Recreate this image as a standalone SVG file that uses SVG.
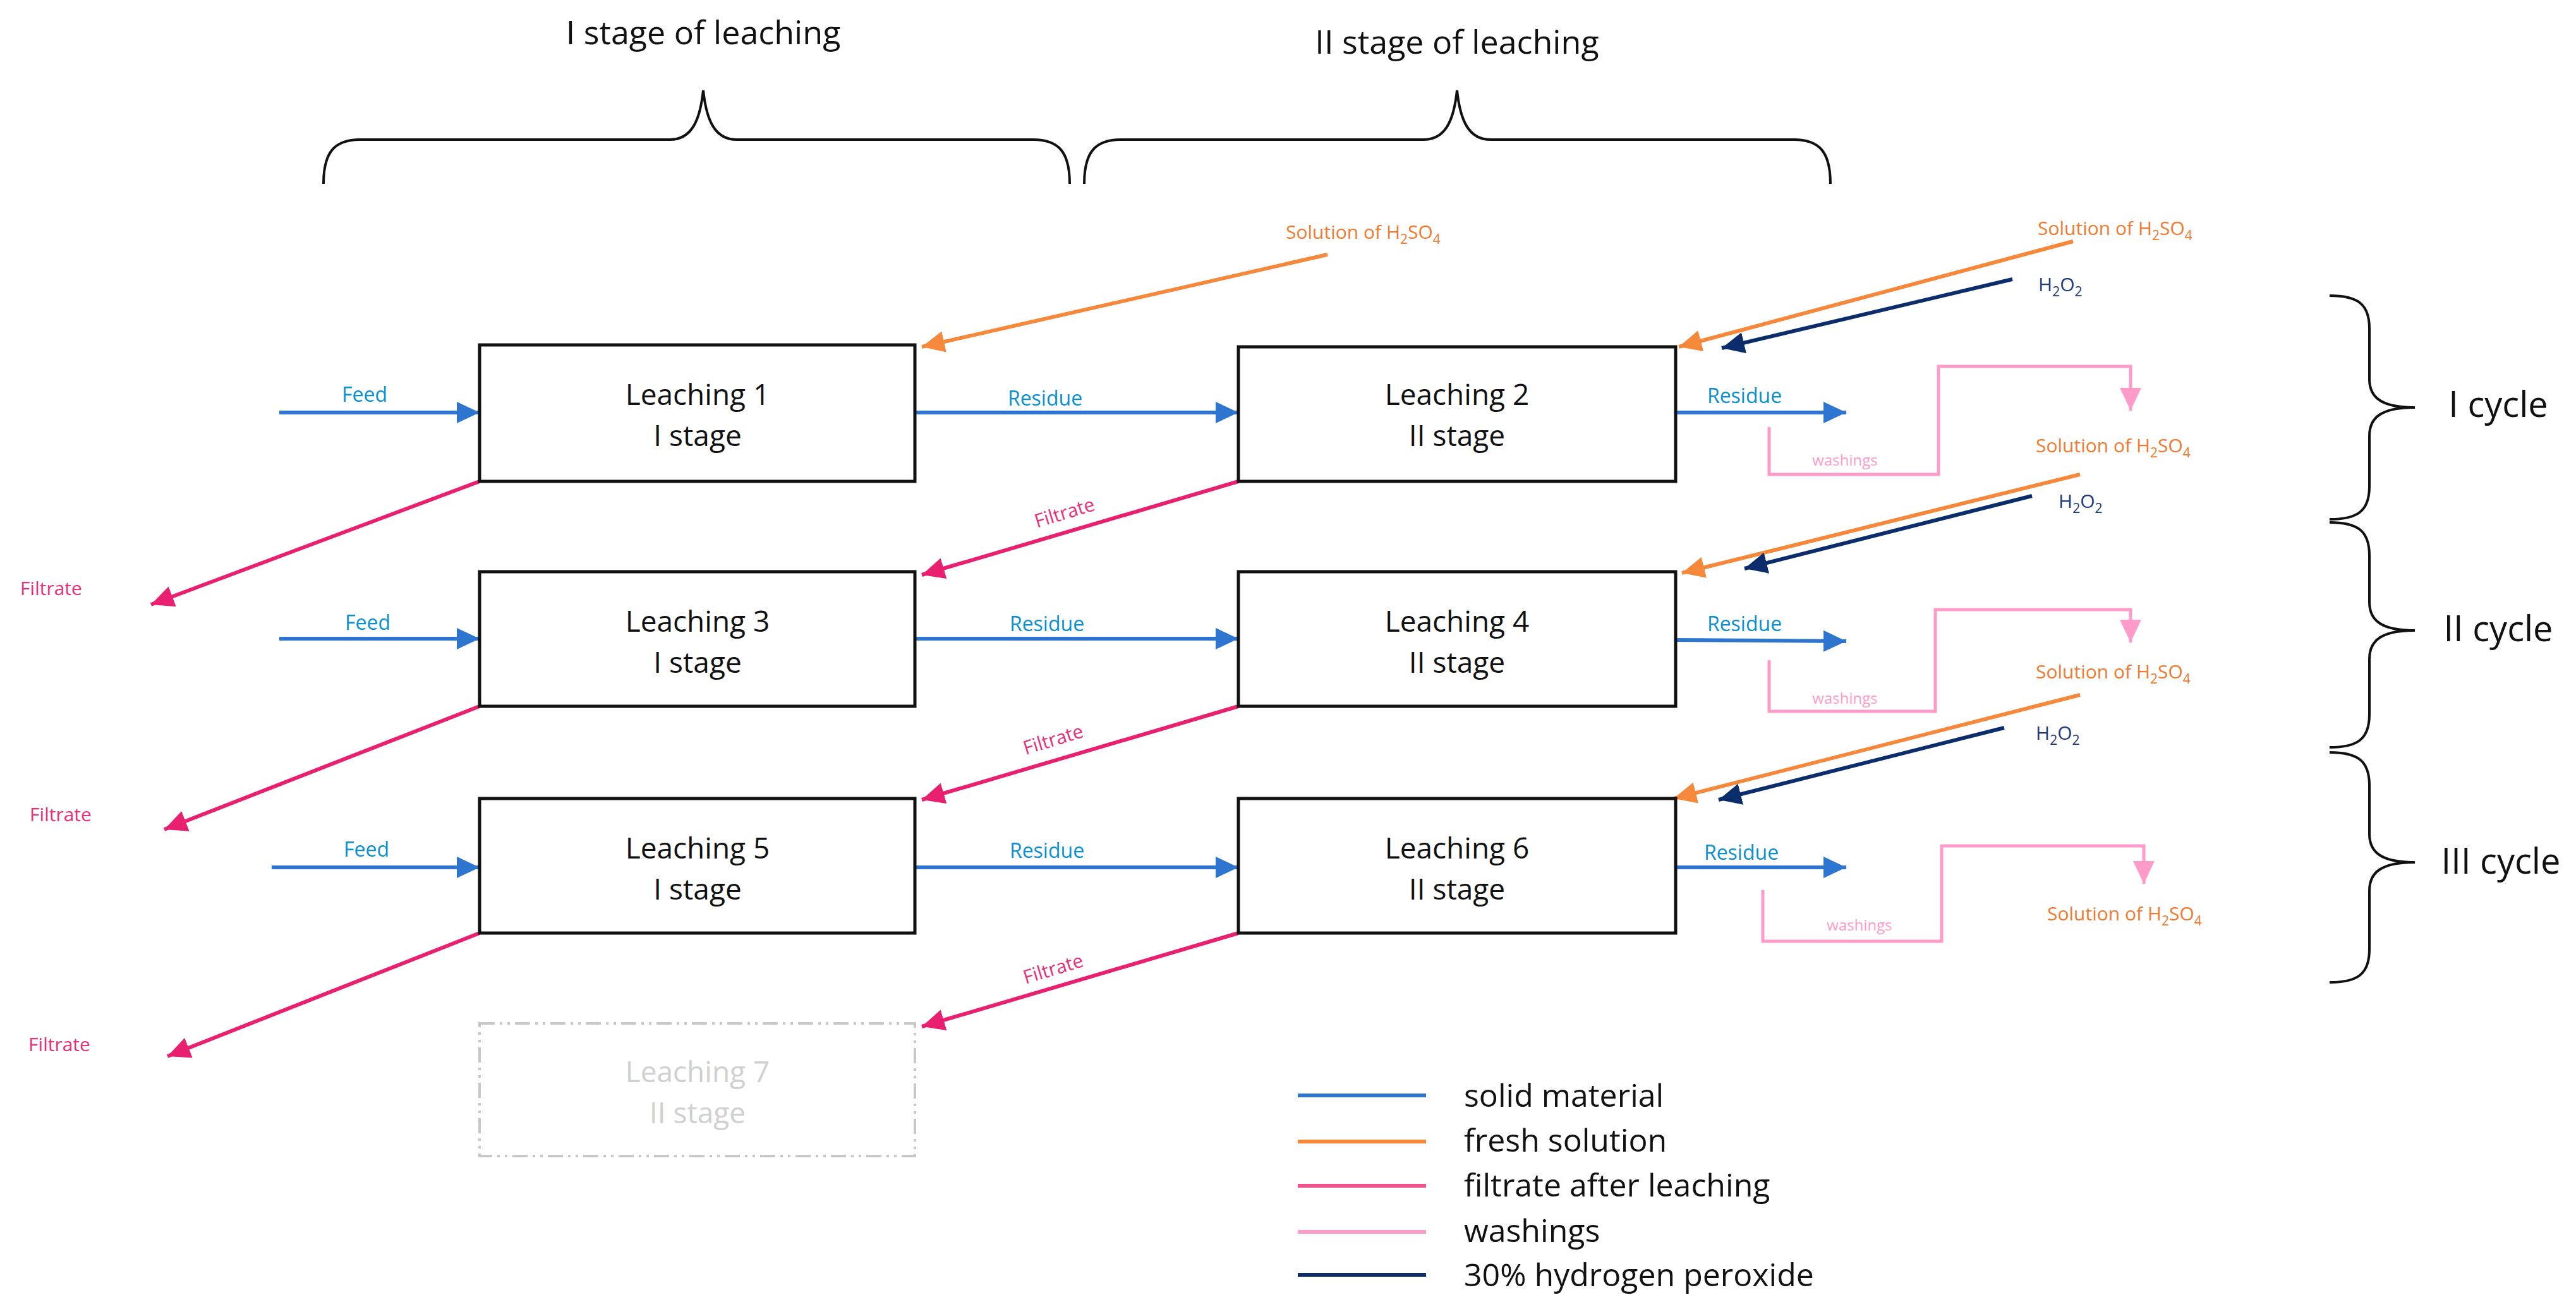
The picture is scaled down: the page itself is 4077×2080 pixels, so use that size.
<svg xmlns="http://www.w3.org/2000/svg" width="4077" height="2080" viewBox="0 0 4077 2080">
<style>
text{font-family:"Open Sans","Liberation Sans",sans-serif}
.box{fill:#fff;stroke:#111;stroke-width:5}
.bt{font-size:46px;fill:#111;text-anchor:middle}
.brace{fill:none;stroke:#111;stroke-width:4}
.big{font-size:52px;fill:#111;text-anchor:middle}
.sol{stroke:#2E75D0;stroke-width:6;fill:none}
.fr{stroke:#F5883A;stroke-width:6;fill:none}
.fil{stroke:#E8206F;stroke-width:6;fill:none}
.wash{stroke:#FF9BC8;stroke-width:5;fill:none}
.per{stroke:#0C2D6B;stroke-width:6;fill:none}
.lb{font-size:32px;fill:#0A8FD0;text-anchor:middle}
.lo{font-size:30px;fill:#F07A30}
.lp{font-size:30px;fill:#E8307A;text-anchor:middle}
.lw{font-size:24px;fill:#FF9BC8;text-anchor:middle}
.ld{font-size:30px;fill:#1F3A7A}
.leg{font-size:50px;fill:#111}
</style>
<defs>
<marker id="ab" markerUnits="userSpaceOnUse" markerWidth="40" markerHeight="34" refX="36" refY="17" orient="auto"><path d="M0,0 L36,17 L0,34 Z" fill="#2E75D0"/></marker>
<marker id="ao" markerUnits="userSpaceOnUse" markerWidth="40" markerHeight="34" refX="36" refY="17" orient="auto"><path d="M0,0 L36,17 L0,34 Z" fill="#F5883A"/></marker>
<marker id="ap" markerUnits="userSpaceOnUse" markerWidth="40" markerHeight="34" refX="36" refY="17" orient="auto"><path d="M0,0 L36,17 L0,34 Z" fill="#E8206F"/></marker>
<marker id="aw" markerUnits="userSpaceOnUse" markerWidth="40" markerHeight="34" refX="36" refY="17" orient="auto"><path d="M0,0 L36,17 L0,34 Z" fill="#FF9BC8"/></marker>
<marker id="ad" markerUnits="userSpaceOnUse" markerWidth="40" markerHeight="34" refX="36" refY="17" orient="auto"><path d="M0,0 L36,17 L0,34 Z" fill="#0C2D6B"/></marker>
</defs>
<g id="headers">
<text class="big" x="1113" y="70">I stage of leaching</text>
<text class="big" x="2306" y="85">II stage of leaching</text>
<path class="brace" d="M512 291 C512 240 530 221 570 221 L1060 221 C1095 221 1108 190 1113 143 C1118 190 1131 221 1166 221 L1635 221 C1675 221 1693 240 1693 291"/>
<path class="brace" d="M1716 291 C1716 240 1734 221 1774 221 L2253 221 C2288 221 2301 190 2306 143 C2311 190 2324 221 2359 221 L2839 221 C2879 221 2897 240 2897 291"/>
<path class="brace" d="M3687 468 C3730 468 3750 480 3750 520 L3750 600 C3750 630 3770 645 3822 645 C3770 645 3750 660 3750 690 L3750 770 C3750 810 3730 822 3687 822"/>
<path class="brace" d="M3687 827 C3730 827 3750 839 3750 879 L3750 953 C3750 983 3770 998 3822 998 C3770 998 3750 1013 3750 1043 L3750 1131 C3750 1171 3730 1183 3687 1183"/>
<path class="brace" d="M3687 1191 C3730 1191 3750 1203 3750 1243 L3750 1320 C3750 1350 3770 1365 3822 1365 C3770 1365 3750 1380 3750 1410 L3750 1503 C3750 1543 3730 1555 3687 1555"/>
<text class="big" x="3954" y="660" style="font-size:56px">I cycle</text>
<text class="big" x="3954" y="1015" style="font-size:56px">II cycle</text>
<text class="big" x="3958" y="1383" style="font-size:56px">III cycle</text>
</g>
<g id="connectors">
<path class="sol" d="M442 653 L759 653" marker-end="url(#ab)"/>
<path class="sol" d="M442 1011 L759 1011" marker-end="url(#ab)"/>
<path class="sol" d="M430 1373 L759 1373" marker-end="url(#ab)"/>
<path class="sol" d="M1448 653 L1960 653" marker-end="url(#ab)"/>
<path class="sol" d="M1448 1011 L1960 1011" marker-end="url(#ab)"/>
<path class="sol" d="M1448 1373 L1960 1373" marker-end="url(#ab)"/>
<path class="sol" d="M2652 653 L2922 653" marker-end="url(#ab)" stroke-width="4"/>
<path class="sol" d="M2652 1013 L2922 1015" marker-end="url(#ab)" stroke-width="4"/>
<path class="sol" d="M2652 1373 L2922 1373" marker-end="url(#ab)" stroke-width="4" stroke="#7AA8E0"/>
<path class="wash" d="M2800 676 L2800 751 L3068 751 L3068 580 L3372 580 L3372 650" marker-end="url(#aw)"/>
<path class="wash" d="M2800 1045 L2800 1126 L3063 1126 L3063 965 L3372 965 L3372 1017" marker-end="url(#aw)"/>
<path class="wash" d="M2790 1409 L2790 1490 L3073 1490 L3073 1339 L3393 1339 L3393 1399" marker-end="url(#aw)"/>
<path class="fil" d="M759 762 L239 957" marker-end="url(#ap)" stroke="#E83C7E"/>
<path class="fil" d="M759 1118 L260 1313" marker-end="url(#ap)" stroke="#E83C7E"/>
<path class="fil" d="M759 1477 L265 1672" marker-end="url(#ap)" stroke="#E83C7E"/>
<path class="fil" d="M1960 762 L1459 910" marker-end="url(#ap)"/>
<path class="fil" d="M1960 1118 L1459 1266" marker-end="url(#ap)"/>
<path class="fil" d="M1960 1477 L1459 1625" marker-end="url(#ap)"/>
<path class="fr" d="M2101 403 L1459 549" marker-end="url(#ao)"/>
<path class="fr" d="M3281 382 L2657 549" marker-end="url(#ao)"/>
<path class="fr" d="M3292 751 L2662 907" marker-end="url(#ao)"/>
<path class="fr" d="M3292 1100 L2649 1264" marker-end="url(#ao)"/>
<path class="per" d="M3185 442 L2725 551" marker-end="url(#ad)"/>
<path class="per" d="M3216 785 L2761 900" marker-end="url(#ad)"/>
<path class="per" d="M3172 1152 L2720 1266" marker-end="url(#ad)"/>
</g>
<g id="labels">
<text class="lb" x="577" y="636">Feed</text>
<text class="lb" x="582" y="997">Feed</text>
<text class="lb" x="580" y="1356">Feed</text>
<text class="lb" x="1654" y="642">Residue</text>
<text class="lb" x="1657" y="999">Residue</text>
<text class="lb" x="1657" y="1358">Residue</text>
<text class="lb" x="2761" y="638">Residue</text>
<text class="lb" x="2761" y="999">Residue</text>
<text class="lb" x="2756" y="1361">Residue</text>
<text class="lw" x="2920" y="737">washings</text>
<text class="lw" x="2920" y="1114">washings</text>
<text class="lw" x="2943" y="1473">washings</text>
<text class="lp" x="81" y="942">Filtrate</text>
<text class="lp" x="96" y="1300">Filtrate</text>
<text class="lp" x="94" y="1664">Filtrate</text>
<text class="lp" x="1685" y="822" transform="rotate(-17 1685 812)">Filtrate</text>
<text class="lp" x="1667" y="1181" transform="rotate(-17 1667 1171)">Filtrate</text>
<text class="lp" x="1667" y="1544" transform="rotate(-17 1667 1534)">Filtrate</text>
<text class="lo" x="2035" y="378">Solution  of  H<tspan dy="8" font-size="21">2</tspan><tspan dy="-8">SO</tspan><tspan dy="8" font-size="21">4</tspan></text>
<text class="lo" x="3225" y="372">Solution  of H<tspan dy="8" font-size="21">2</tspan><tspan dy="-8">SO</tspan><tspan dy="8" font-size="21">4</tspan></text>
<text class="lo" x="3222" y="716">Solution  of H<tspan dy="8" font-size="21">2</tspan><tspan dy="-8">SO</tspan><tspan dy="8" font-size="21">4</tspan></text>
<text class="lo" x="3222" y="1074">Solution  of H<tspan dy="8" font-size="21">2</tspan><tspan dy="-8">SO</tspan><tspan dy="8" font-size="21">4</tspan></text>
<text class="lo" x="3240" y="1457">Solution  of H<tspan dy="8" font-size="21">2</tspan><tspan dy="-8">SO</tspan><tspan dy="8" font-size="21">4</tspan></text>
<text class="ld" x="3226" y="461">H<tspan dy="8" font-size="21">2</tspan><tspan dy="-8">O</tspan><tspan dy="8" font-size="21">2</tspan></text>
<text class="ld" x="3258" y="804">H<tspan dy="8" font-size="21">2</tspan><tspan dy="-8">O</tspan><tspan dy="8" font-size="21">2</tspan></text>
<text class="ld" x="3222" y="1171">H<tspan dy="8" font-size="21">2</tspan><tspan dy="-8">O</tspan><tspan dy="8" font-size="21">2</tspan></text>
</g>
<g id="leach1"><rect class="box" x="759" y="546" width="689" height="216"/><text class="bt" x="1104" y="641">Leaching 1</text><text class="bt" x="1104" y="706">I stage</text></g>
<g id="leach2"><rect class="box" x="1960" y="549" width="692" height="213"/><text class="bt" x="2306" y="641">Leaching 2</text><text class="bt" x="2306" y="706">II stage</text></g>
<g id="leach3"><rect class="box" x="759" y="905" width="689" height="213"/><text class="bt" x="1104" y="1000">Leaching 3</text><text class="bt" x="1104" y="1065">I stage</text></g>
<g id="leach4"><rect class="box" x="1960" y="905" width="692" height="213"/><text class="bt" x="2306" y="1000">Leaching 4</text><text class="bt" x="2306" y="1065">II stage</text></g>
<g id="leach5"><rect class="box" x="759" y="1264" width="689" height="213"/><text class="bt" x="1104" y="1359">Leaching 5</text><text class="bt" x="1104" y="1424">I stage</text></g>
<g id="leach6"><rect class="box" x="1960" y="1264" width="692" height="213"/><text class="bt" x="2306" y="1359">Leaching 6</text><text class="bt" x="2306" y="1424">II stage</text></g>
<g id="leach7"><rect x="759" y="1620" width="689" height="210" fill="none" stroke="#c8c8c8" stroke-width="4" stroke-dasharray="24 8 4 8 4 8"/><text class="bt" x="1104" y="1713" style="fill:#d0d0d0">Leaching 7</text><text class="bt" x="1104" y="1778" style="fill:#d0d0d0">II stage</text></g>
<g id="legend">
<path d="M2054 1734 L2257 1734" stroke="#2E75D0" stroke-width="6"/>
<path d="M2054 1807 L2257 1807" stroke="#F5883A" stroke-width="6"/>
<path d="M2054 1877 L2257 1877" stroke="#F0508E" stroke-width="6"/>
<path d="M2054 1950 L2257 1950" stroke="#FF9BC8" stroke-width="6"/>
<path d="M2054 2018 L2257 2018" stroke="#0C2D6B" stroke-width="6"/>
<text class="leg" x="2317" y="1752">solid material</text>
<text class="leg" x="2317" y="1823">fresh solution</text>
<text class="leg" x="2317" y="1894">filtrate after leaching</text>
<text class="leg" x="2317" y="1966">washings</text>
<text class="leg" x="2317" y="2036">30% hydrogen peroxide</text>
</g>
</svg>
